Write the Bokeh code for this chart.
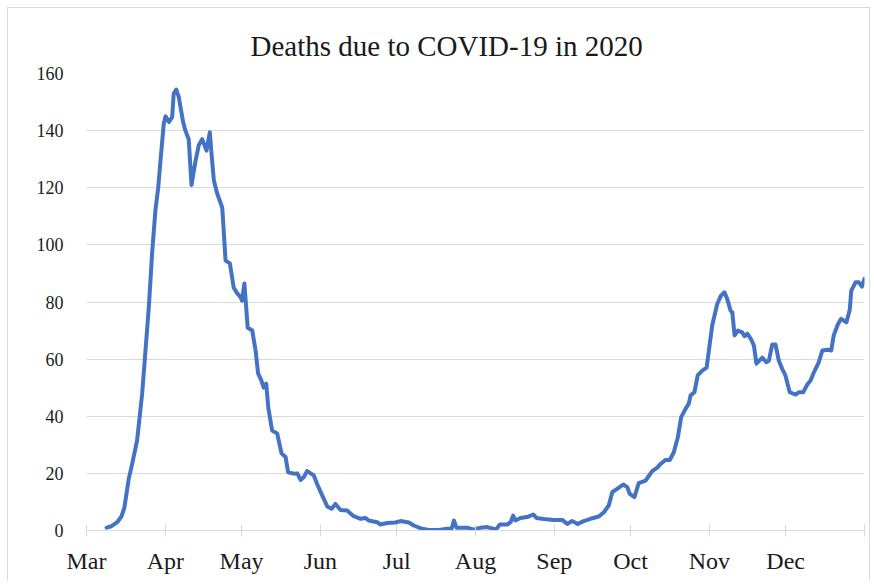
from bokeh.plotting import figure
from bokeh.models import Range1d, FixedTicker, Title
from bokeh.embed import file_html
from bokeh.resources import INLINE

# ---- data (days counted from 1 March 2020) ----
month_labels = ["Mar", "Apr", "May", "Jun", "Jul", "Aug", "Sep", "Oct", "Nov", "Dec", ""]
month_start_day = [0, 31, 61, 92, 122, 153, 184, 214, 245, 275, 306]
y_ticks = [0, 20, 40, 60, 80, 100, 120, 140, 160]

day = [7.9, 9.8, 12.1, 13.8, 14.9, 16.6, 18.0, 19.9, 21.9, 23.2, 24.5, 25.8, 27.1, 28.2,
       29.1, 30.4, 31.1, 32.4, 33.7, 34.3, 35.3, 36.3, 38.0, 38.9, 40.2, 41.3, 42.9, 44.2,
       45.5, 47.2, 48.5, 49.4, 50.1, 51.4, 53.4, 54.7, 56.4, 57.9, 59.3, 60.6, 61.2, 62.1,
       63.4, 65.2, 66.5, 67.5, 68.8, 69.7, 70.7, 71.5, 73.0, 75.0, 76.7, 78.3, 79.3, 81.5,
       82.9, 84.2, 85.5, 86.8, 89.4, 90.7, 92.7, 94.7, 96.4, 97.9, 99.9, 102.5, 105.1, 107.8,
       109.7, 111.0, 114.3, 115.6, 118.3, 121.5, 123.5, 126.8, 128.7, 132.0, 134.6, 138.6,
       141.9, 143.6, 144.5, 145.5, 149.7, 152.3, 155.0, 157.6, 160.0, 160.9, 162.6, 165.5,
       166.8, 167.8, 168.7, 170.7, 173.3, 175.7, 177.0, 179.9, 183.8, 187.1, 189.1, 191.0,
       193.2, 195.6, 198.2, 201.5, 203.5, 205.4, 206.8, 208.7, 211.1, 212.7, 213.7, 215.5,
       217.2, 219.9, 222.5, 224.5, 225.8, 227.7, 229.4, 231.0, 232.6, 233.9, 235.6, 236.9,
       237.6, 239.1, 240.4, 242.2, 243.9, 244.8, 246.1, 248.1, 249.6, 250.9, 252.0, 253.3,
       254.0, 254.9, 256.2, 257.9, 258.8, 259.9, 261.4, 262.5, 263.5, 265.8, 267.5, 268.4,
       269.7, 271.0, 272.3, 273.6, 274.9, 276.6, 278.9, 280.2, 281.9, 283.5, 284.8, 286.1,
       288.0, 289.4, 291.6, 292.9, 293.9, 295.5, 296.8, 298.9, 300.2, 300.8, 302.5, 303.8,
       305.0, 306.0]

deaths = [1.0, 1.5, 2.9, 5.0, 8.0, 18.0, 23.5, 31.5, 48.0, 63.0, 78.0, 97.0, 112.0, 120.0,
          129.5, 142.5, 145.0, 143.0, 144.7, 153.0, 154.4, 151.7, 143.0, 140.0, 137.0, 121.0, 129.5, 135.0,
          137.0, 133.0, 139.4, 129.5, 122.5, 118.0, 113.0, 94.5, 93.5, 85.0, 83.0, 81.7, 80.5, 86.5,
          71.0, 70.0, 63.0, 55.0, 52.5, 50.0, 51.4, 43.0, 35.0, 34.0, 27.0, 25.7, 20.4, 19.9,
          20.0, 17.7, 18.7, 20.8, 19.3, 16.3, 12.3, 8.4, 7.6, 9.3, 7.2, 7.0, 5.0, 4.1,
          4.4, 3.5, 2.9, 2.1, 2.6, 2.8, 3.3, 2.8, 1.75, 0.6, 0.2, 0.2,
          0.6, 0.6, 3.5, 1.0, 1.0, 0.3, 1.0, 1.2, 0.6, 0.2, 2.1, 2.1,
          2.9, 5.2, 3.5, 4.4, 4.7, 5.6, 4.4, 4.0, 3.7, 3.7, 2.3, 3.3,
          2.3, 3.3, 4.1, 4.9, 6.4, 8.75, 13.4, 14.6, 16.1, 15.2, 12.8, 11.7,
          16.6, 17.5, 20.8, 22.0, 23.3, 24.7, 24.7, 27.4, 32.7, 39.7, 42.6, 44.4,
          47.3, 48.4, 54.3, 56.0, 57.0, 63.0, 71.8, 79.4, 82.3, 83.4, 81.1, 77.0,
          76.4, 68.3, 70.0, 69.4, 68.0, 68.9, 66.9, 64.8, 58.4, 60.5, 58.9, 59.5,
          65.1, 65.1, 59.5, 56.6, 54.3, 48.4, 47.6, 48.4, 48.4, 51.1, 52.5, 55.4,
          58.9, 63.0, 63.3, 63.0, 68.3, 72.1, 74.1, 72.9, 77.3, 84.0, 86.9, 86.9,
          85.4, 88.1]

FONT = "Liberation Serif"
GRID = "#d9d9d9"

p = figure(width=863, height=574, output_backend="svg", toolbar_location=None,
           x_range=Range1d(month_start_day[0], month_start_day[-1]),
           y_range=Range1d(y_ticks[0], y_ticks[-1]),
           min_border_left=78, min_border_right=7, min_border_top=65, min_border_bottom=52,
           title=None)

p.title = Title(text="Deaths due to COVID-19 in 2020", align="left", offset=164,
                text_font=FONT, text_font_size="29px", text_font_style="normal",
                text_color="#1a1a1a", standoff=23)

p.line(day, deaths, line_color="#4472C4", line_width=4,
       line_join="round", line_cap="round")

p.outline_line_color = None
p.background_fill_color = "white"
p.border_fill_color = "white"

p.xgrid.grid_line_color = None
p.ygrid.grid_line_color = GRID
p.ygrid.grid_line_width = 1

p.xaxis.ticker = FixedTicker(ticks=month_start_day)
p.xaxis.major_label_overrides = {d: lab for d, lab in zip(month_start_day, month_labels)}
p.xaxis.axis_line_color = GRID
p.xaxis.major_tick_line_color = GRID
p.xaxis.major_tick_in = 6
p.xaxis.major_tick_out = 6
p.xaxis.minor_tick_line_color = None
p.xaxis.major_label_standoff = 11
p.xaxis.major_label_text_font = FONT
p.xaxis.major_label_text_font_size = "24px"
p.xaxis.major_label_text_color = "#1a1a1a"

p.yaxis.ticker = FixedTicker(ticks=y_ticks)
p.yaxis.axis_line_color = None
p.yaxis.major_tick_line_color = None
p.yaxis.minor_tick_line_color = None
p.yaxis.major_tick_in = 0
p.yaxis.major_tick_out = 0
p.yaxis.major_label_standoff = 23
p.yaxis.major_label_text_font = FONT
p.yaxis.major_label_text_font_size = "18px"
p.yaxis.major_label_text_color = "#1a1a1a"

p.styles = {"margin-left": "7px", "margin-top": "7px",
            "border-top": "1px solid #d9d9d9", "border-left": "1px solid #d9d9d9",
            "border-right": "1px solid #d9d9d9"}

open("out.html", "w").write(file_html(p, INLINE))
